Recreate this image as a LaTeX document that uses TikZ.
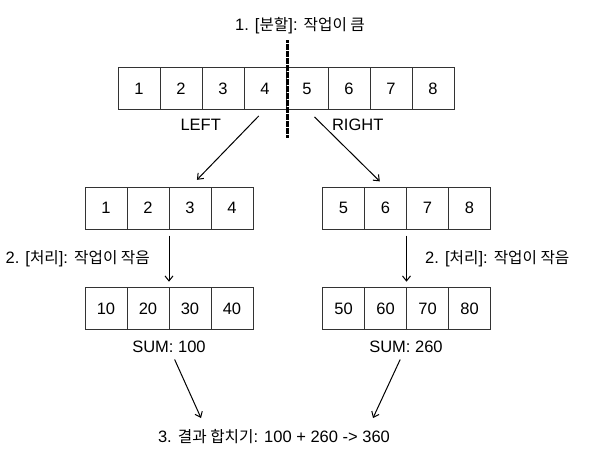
\documentclass[tikz,border=0pt]{standalone}
\usepackage{fontspec}
\setmainfont{Liberation Sans}
\newfontfamily\kr[Scale=0.95]{Noto Sans CJK KR}
\usetikzlibrary{arrows.meta}
\begin{document}
\begin{tikzpicture}[x=1pt,y=-1pt,font=\fontsize{16.5}{19}\selectfont,
  cell/.style={draw=black!80,line width=0.8pt,minimum width=42,minimum height=42,inner sep=0pt,outer sep=0pt},
  arr/.style={line width=1pt,-{Straight Barb[length=5pt,width=8pt]}},
  lbl/.style={inner sep=1pt}]
\useasboundingbox (0,0) rectangle (592,459);

\node[lbl] (split) at (300,26) {1. [{\kr 분할}]: {\kr 작업이 큼}};

\foreach \v [count=\i] in {1,...,8}{ % whole array
  \node[cell] (T\i) at (118+42*\i-21,88.5) {\v};
}
\draw[line width=2.4pt,dash pattern=on 3pt off 0.5pt] (287.5,40) -- (287.5,138);
\node[lbl] (left) at (200.7,125) {LEFT};
\node[lbl] (right) at (357.7,125) {RIGHT};

\foreach \v [count=\i] in {1,2,3,4}{ % left half
  \node[cell] (L\i) at (85+42*\i-21,208) {\v};
}
\foreach \v [count=\i] in {5,6,7,8}{ % right half
  \node[cell] (R\i) at (322.5+42*\i-21,208) {\v};
}
\foreach \v [count=\i] in {10,20,30,40}{
  \node[cell] (LS\i) at (85+42*\i-21,308.7) {\v};
}
\foreach \v [count=\i] in {50,60,70,80}{
  \node[cell] (RS\i) at (322.5+42*\i-21,308.7) {\v};
}

\draw[arr,shorten <=9pt,shorten >=10pt] (T4.south) -- (L3.north);
\draw[arr,shorten <=10.5pt,shorten >=8pt] (T5.south) -- (R2.north);

\node[lbl,anchor=east] (procL) at (151,259) {2. [{\kr 처리}]: {\kr 작업이 작음}};
\node[lbl,anchor=west] (procR) at (424,259) {2. [{\kr 처리}]: {\kr 작업이 작음}};
\draw[arr,shorten <=6.5pt,shorten >=6pt] (L2.south east) -- (LS2.north east);
\draw[arr,shorten <=6.5pt,shorten >=6pt] (R2.south east) -- (RS2.north east);

\node[lbl] (sumL) at (169,347) {SUM: 100};
\node[lbl] (sumR) at (406,347) {SUM: 260};

\node[lbl] (merge) at (274,437) {3. {\kr 결과 합치기}: 100 + 260 -> 360};
\coordinate (inL) at (201,418);
\coordinate (inR) at (373,418);
\draw[arr,shorten <=6pt] (sumL) -- (inL);
\draw[arr,shorten <=6pt] (sumR) -- (inR);
\end{tikzpicture}
\end{document}
